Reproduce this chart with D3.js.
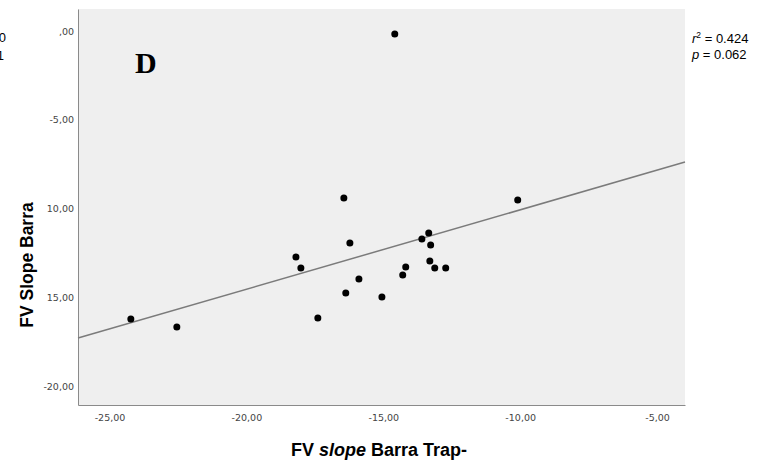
<!DOCTYPE html>
<html><head><meta charset="utf-8">
<script src="https://cdn.jsdelivr.net/npm/d3@7/dist/d3.min.js"></script>
<style>body{margin:0;background:#fff}svg{display:block}</style>
</head><body>
<svg id="c" width="757" height="461"></svg>
<script>
const xValues = [-14.58,-16.44,-10.09,-18.19,-18.01,-16.22,-13.59,-13.34,-13.27,-13.30,-13.12,-12.72,-14.18,-14.29,-15.89,-16.37,-15.05,-17.39,-24.22,-22.54];
const yValues = [-0.17,-9.41,-9.52,-12.73,-13.35,-11.94,-11.72,-11.38,-12.06,-12.96,-13.35,-13.35,-13.30,-13.75,-13.97,-14.76,-14.99,-16.17,-16.23,-16.68];
const xTicks = [-25,-20,-15,-10,-5];
const xTickLabels = ["-25,00","-20,00","-15,00","-10,00","-5,00"];
const yTicks = [0,-5,-10,-15,-20];
const yTickLabels = [",00","-5,00","10,00","15,00","-20,00"];
const fitLine = [{x:-26.15,y:-17.30},{x:-3.98,y:-7.38}];

const svg = d3.select("#c");
const L=78,R=685,T=9,B=405;
const x = d3.scaleLinear().domain([-26.15,-3.98]).range([L,R]);
const y = d3.scaleLinear().domain([1.24,-21.07]).range([T,B]);

svg.append("rect").attr("x",L).attr("y",T).attr("width",R-L).attr("height",B-T).attr("fill","#efefef");

const fs = "Helvetica, Arial, 'Liberation Sans', sans-serif";
const tfs = "'DejaVu Sans', Verdana, sans-serif";
// axes
const xa = svg.append("g").attr("transform",`translate(0,${B})`)
  .call(d3.axisBottom(x).tickValues(xTicks).tickSize(0).tickFormat((d,i)=>xTickLabels[i]));
xa.select(".domain").attr("stroke","#8a8a8a");
xa.selectAll("text").attr("y",0).attr("dy","15.5").attr("font-size",9.5).attr("fill","#444").attr("font-family",tfs);
const ya = svg.append("g").attr("transform",`translate(${L},0)`)
  .call(d3.axisLeft(y).tickValues(yTicks).tickSize(0).tickFormat((d,i)=>yTickLabels[i]));
ya.select(".domain").attr("stroke","#8a8a8a");
ya.selectAll("text").attr("x",-4).attr("font-size",9.5).attr("fill","#444").attr("font-family",tfs);

// fit line
svg.append("path").datum(fitLine)
  .attr("d",d3.line().x(d=>x(d.x)).y(d=>y(d.y)))
  .attr("stroke","#7b7b7b").attr("stroke-width",1.5).attr("fill","none");

// points
svg.append("g").selectAll("circle").data(xValues.map((v,i)=>({x:v,y:yValues[i]})))
  .join("circle").attr("cx",d=>x(d.x)).attr("cy",d=>y(d.y)).attr("r",3.5).attr("fill","#000");

// panel label
svg.append("text").attr("x",135).attr("y",73).text("D")
  .attr("font-family","'Liberation Serif','DejaVu Serif',serif").attr("font-weight","bold").attr("font-size",30);

// stats
const st = svg.append("g").attr("font-family",fs).attr("font-size",13).attr("fill","#000");
const t1 = st.append("text").attr("x",692).attr("y",43);
t1.append("tspan").attr("font-style","italic").text("r");
t1.append("tspan").attr("font-size",8.5).attr("dy",-5).text("2");
t1.append("tspan").attr("dy",5).text(" = 0.424");
const t2 = st.append("text").attr("x",692).attr("y",59);
t2.append("tspan").attr("font-style","italic").text("p");
t2.append("tspan").text(" = 0.062");

// clipped text from neighbouring panel
svg.append("text").attr("x",6).attr("y",42).attr("text-anchor","end").attr("font-family",fs).attr("font-size",13).text("0");
svg.append("text").attr("x",4).attr("y",60).attr("text-anchor","end").attr("font-family",fs).attr("font-size",13).text("1");

// axis titles
svg.append("text").attr("transform","translate(33,265) rotate(-90)").attr("text-anchor","middle")
  .attr("font-family",fs).attr("font-weight","bold").attr("font-size",17.5).text("FV Slope Barra");
const xt = svg.append("text").attr("x",379).attr("y",456).attr("text-anchor","middle")
  .attr("font-family",fs).attr("font-weight","bold").attr("font-size",18);
xt.append("tspan").text("FV ");
xt.append("tspan").attr("font-style","italic").text("slope");
xt.append("tspan").text(" Barra Trap-");
</script>
</body></html>
